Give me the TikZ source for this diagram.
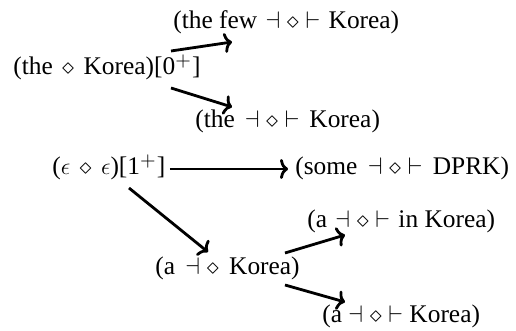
\documentclass[tikz,border=0pt]{standalone}
\usepackage{fontspec}
\setmainfont{Liberation Serif}
\usetikzlibrary{arrows.meta}
\newcommand{\psup}{\raisebox{4.2pt}{\fontsize{10}{10}\selectfont$+$}\kern0.6pt}
\tikzset{
  lbl/.style={inner sep=0pt, anchor=base west, font=\fontsize{12.7}{15}\selectfont},
  arr/.style={line width=1.4pt, -{To[length=4pt,width=10pt]}}
}
\begin{document}
\begin{tikzpicture}[x=0.5pt,y=-0.5pt]
\useasboundingbox (0,0) rectangle (516,331);
\node[lbl] (B) at (173,29) {(the few \kern1pt$\dashv\diamond\vdash$\kern1pt{} Korea)};
\node[lbl] (A) at (13,75) {(the \kern1.5pt$\diamond$\kern1.5pt{} Korea)[0\psup]};
\node[lbl] (C) at (195,128) {(the \kern1.8pt$\dashv\diamond\vdash$\kern1.8pt{} Korea)};
\node[lbl] (D) at (52,175) {($\epsilon\mkern3mu\diamond\mkern3mu\epsilon$)[1\psup]};
\node[lbl] (E) at (295,175) {(some \kern2pt$\dashv\diamond\vdash$\kern2pt{} DPRK)};
\node[lbl] (G) at (307,228) {(a \kern1pt$\dashv\diamond\vdash$\kern1pt{} in Korea)};
\node[lbl] (F) at (155,275) {(a \kern2pt$\dashv\diamond$\kern2pt{} Korea)};
\node[lbl] (H) at (322,323) {(a $\dashv\diamond\vdash$ Korea)};
\draw[arr] ([shift={(158,-24)}]A.base west) -- ([shift={(59,13)}]B.base west);
\draw[arr] ([shift={(158,13)}]A.base west) -- ([shift={(37,-21)}]C.base west);
\draw[arr] ([shift={(118,-6)}]D.base west) -- ([shift={(-7,-6)}]E.base west);
\draw[arr] ([shift={(77,13)}]D.base west) -- ([shift={(53,-23)}]F.base west);
\draw[arr] ([shift={(130,-22)}]F.base west) -- ([shift={(38,7)}]G.base west);
\draw[arr] ([shift={(130,10)}]F.base west) -- ([shift={(23,-21)}]H.base west);
\end{tikzpicture}
\end{document}
